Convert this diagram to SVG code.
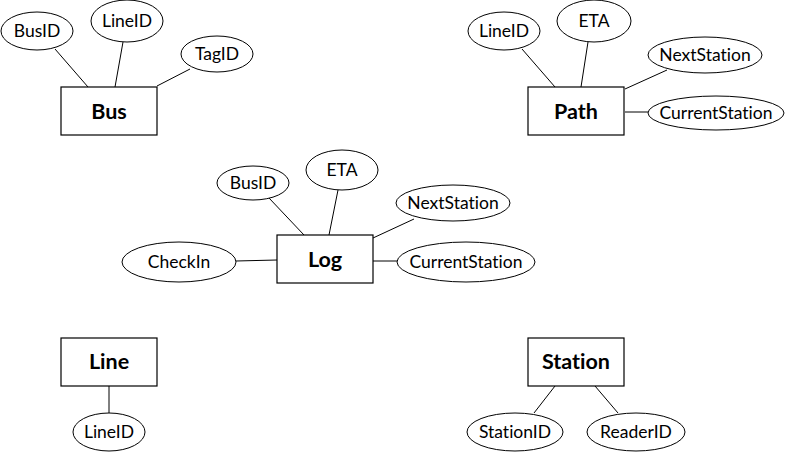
<svg xmlns="http://www.w3.org/2000/svg" width="787" height="455" viewBox="0 0 787 455">
<style>
.ent{fill:#fff;stroke:#000;stroke-width:1.2}
.att{fill:#fff;stroke:#000;stroke-width:1}
.et{font-family:Lato,"Liberation Sans",sans-serif;font-weight:bold;font-size:21.5px;text-anchor:middle;fill:#000;font-variant-ligatures:none}
.at{font-family:Lato,"Liberation Sans",sans-serif;font-size:17.5px;text-anchor:middle;fill:#000;font-variant-ligatures:none}
.c line{stroke:#000;stroke-width:1}
</style>
<rect width="787" height="455" fill="#fff"/>
<g id="connectors" class="c">
<line x1="55" y1="49" x2="88" y2="87"/>
<line x1="123" y1="42" x2="115" y2="87"/>
<line x1="190" y1="69" x2="157" y2="86"/>
<line x1="522" y1="49" x2="555" y2="87"/>
<line x1="588" y1="42" x2="581" y2="87"/>
<line x1="667" y1="70" x2="625" y2="89"/>
<line x1="625" y1="112" x2="648" y2="112"/>
<line x1="269" y1="198" x2="304" y2="235"/>
<line x1="338" y1="190" x2="329" y2="235"/>
<line x1="414" y1="219" x2="373" y2="238"/>
<line x1="236" y1="261" x2="277" y2="260"/>
<line x1="373" y1="261" x2="397" y2="261"/>
<line x1="109" y1="386" x2="109" y2="413"/>
<line x1="555" y1="386" x2="534" y2="413"/>
<line x1="595" y1="386" x2="618" y2="413"/>
</g>
<g id="bus">
<rect class="ent" x="61" y="87" width="96" height="48"/>
<text class="et" x="109" y="119">Bus</text>
</g>
<g id="bus-busid"><ellipse class="att" cx="37" cy="31" rx="36" ry="19"/><text class="at" x="37" y="37">BusID</text></g>
<g id="bus-lineid"><ellipse class="att" cx="127" cy="21" rx="36" ry="21"/><text class="at" x="127" y="27">LineID</text></g>
<g id="bus-tagid"><ellipse class="att" cx="217" cy="54" rx="36" ry="18"/><text class="at" x="217" y="60">TagID</text></g>
<g id="path">
<rect class="ent" x="528" y="87" width="96" height="48"/>
<text class="et" x="576" y="119">Path</text>
</g>
<g id="path-lineid"><ellipse class="att" cx="504" cy="31" rx="36" ry="19"/><text class="at" x="504" y="37">LineID</text></g>
<g id="path-eta"><ellipse class="att" cx="594" cy="21" rx="37" ry="21"/><text class="at" x="594" y="27">ETA</text></g>
<g id="path-next"><ellipse class="att" cx="705" cy="55" rx="57" ry="18"/><text class="at" x="705" y="61">NextStation</text></g>
<g id="path-current"><ellipse class="att" cx="716" cy="113" rx="68" ry="17"/><text class="at" x="716" y="119">CurrentStation</text></g>
<g id="log">
<rect class="ent" x="277" y="235" width="96" height="48"/>
<text class="et" x="325" y="267">Log</text>
</g>
<g id="log-busid"><ellipse class="att" cx="253" cy="183" rx="36" ry="17"/><text class="at" x="253" y="189">BusID</text></g>
<g id="log-eta"><ellipse class="att" cx="342" cy="170" rx="36" ry="20"/><text class="at" x="342" y="176">ETA</text></g>
<g id="log-next"><ellipse class="att" cx="453" cy="203" rx="57" ry="18"/><text class="at" x="453" y="209">NextStation</text></g>
<g id="log-current"><ellipse class="att" cx="466" cy="262" rx="69" ry="20"/><text class="at" x="466" y="268">CurrentStation</text></g>
<g id="log-checkin"><ellipse class="att" cx="179" cy="262" rx="57" ry="20"/><text class="at" x="179" y="268">CheckIn</text></g>
<g id="line">
<rect class="ent" x="61" y="338" width="96" height="48"/>
<text class="et" x="109" y="369">Line</text>
</g>
<g id="line-lineid"><ellipse class="att" cx="109" cy="432" rx="36" ry="19"/><text class="at" x="109" y="438">LineID</text></g>
<g id="station">
<rect class="ent" x="528" y="338" width="96" height="48"/>
<text class="et" x="576" y="369">Station</text>
</g>
<g id="station-stationid"><ellipse class="att" cx="515" cy="432" rx="48" ry="19"/><text class="at" x="515" y="438">StationID</text></g>
<g id="station-readerid"><ellipse class="att" cx="636" cy="432" rx="49" ry="19"/><text class="at" x="636" y="438">ReaderID</text></g>
</svg>
